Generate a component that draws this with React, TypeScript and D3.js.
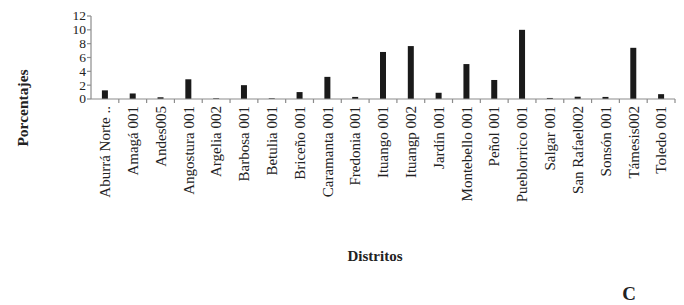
import React from "react";
import * as d3 from "d3";

const categories = [
  "Aburrá Norte ..", "Amagá 001", "Andes005", "Angostura 001", "Argelia 002",
  "Barbosa 001", "Betulia 001", "Briceño 001", "Caramanta 001", "Fredonia 001",
  "Ituango 001", "Ituangp 002", "Jardín 001", "Montebello 001", "Peñol 001",
  "Pueblorrico 001", "Salgar 001", "San Rafael002", "Sonsón 001", "Támesis002", "Toledo 001",
];
const values = [1.25, 0.8, 0.25, 2.85, 0.1, 2.0, 0.1, 1.0, 3.2, 0.3, 6.8, 7.65, 0.9, 5.05, 2.75, 10.0, 0.15, 0.33, 0.3, 7.4, 0.7];
const yTicks = [0, 2, 4, 6, 8, 10, 12];

const W = 684, H = 305;
const left = 91, right = 675, top = 16, bottom = 99;

export default function App() {
  const x = d3.scaleBand<string>().domain(categories).range([left, right]).padding(0);
  const y = d3.scaleLinear().domain([0, 12]).range([bottom, top]);
  const bw = 6;
  const axisColor = "#8c8c8c";
  const font = '"Liberation Serif", "DejaVu Serif", serif';
  return (
    <div style={{ position: "fixed", left: 0, top: 0 }}>
      <svg width={W} height={H} style={{ display: "block", background: "#fff", fontFamily: font }}>
        {/* y axis */}
        <line x1={left} x2={left} y1={top} y2={bottom} stroke={axisColor} strokeWidth={1.2} />
        {yTicks.map((t) => (
          <g key={t}>
            <line x1={left - 4} x2={left} y1={y(t)} y2={y(t)} stroke={axisColor} strokeWidth={1.2} />
            <text x={86} y={y(t)} dy="0.33em" textAnchor="end" fontSize={13.5} fill="#222" style={{ fontFamily: font }}>{t}</text>
          </g>
        ))}
        {/* bars */}
        {categories.map((c, i) => (
          <rect key={c} x={(x(c) as number) + x.bandwidth() / 2 - bw / 2} y={y(values[i])}
            width={bw} height={bottom - y(values[i])} fill="#1a1a1a" />
        ))}
        {/* x axis */}
        <line x1={left} x2={right} y1={bottom} y2={bottom} stroke={axisColor} strokeWidth={1.2} />
        {categories.map((c) => (
          <line key={"t" + c} x1={(x(c) as number) + x.bandwidth()} x2={(x(c) as number) + x.bandwidth()}
            y1={bottom} y2={bottom + 4} stroke={axisColor} strokeWidth={1.2} />
        ))}
        {categories.map((c) => {
          const cx = (x(c) as number) + x.bandwidth() / 2;
          return (
            <text key={"l" + c} transform={`translate(${cx},106) rotate(-90)`} textAnchor="end" dy="0.35em"
              fontSize={15} fill="#222" style={{ fontFamily: font }}>{c}</text>
          );
        })}
        <text transform={`translate(23,108) rotate(-90)`} textAnchor="middle" dy="0.35em" fontSize={15.5}
          fontWeight="bold" fill="#222" style={{ fontFamily: font }}>Porcentajes</text>
        <text x={375} y={261} textAnchor="middle" fontSize={15} fontWeight="bold" fill="#222" style={{ fontFamily: font }}>Distritos</text>
        <text x={629} y={300} textAnchor="middle" fontSize={19} fontWeight="bold" fill="#222" style={{ fontFamily: font }}>C</text>
      </svg>
    </div>
  );
}
